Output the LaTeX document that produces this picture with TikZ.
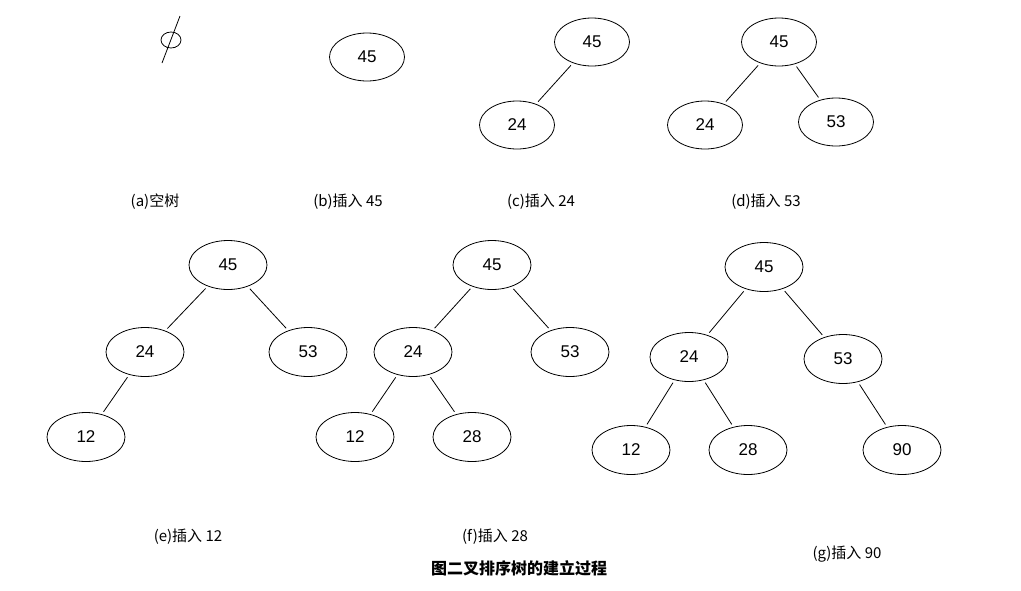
\documentclass[tikz,border=0pt]{standalone}
\usepackage{fontspec}
\usetikzlibrary{shapes.geometric}
\setmainfont{Liberation Sans}
\newfontfamily\cjk{Noto Sans CJK SC}
\begin{document}
\begin{tikzpicture}[x=1pt,y=-1pt,
  nd/.style={draw,thick,ellipse,minimum width=78pt,minimum height=49pt,inner sep=0pt,font=\fontsize{17}{17}\selectfont},
  ed/.style={thick,shorten <=3pt,shorten >=3pt},
  captxt/.style={font=\fontsize{15}{15}\selectfont\cjk}]
\useasboundingbox (0,0) rectangle (1021,590);
% (a)
\draw[thick] (171,40) ellipse (10 and 8);
\coordinate (e1) at (180,16); \coordinate (e2) at (162,63);
\draw[thick] (e1) -- (e2);
\node[captxt] (ca) at (155,202) {(a)空树};
% (b)
\node[nd,minimum width=75pt,minimum height=48pt] (b1) at (367,57) {45};
\node[captxt] (cb) at (348,202) {(b)插入 45};
% (c)
\node[nd,minimum width=75pt,minimum height=48pt] (c1) at (592,42) {45};
\node[nd,minimum width=75pt,minimum height=48pt] (c2) at (517,125) {24};
\draw[ed] (c1) -- (c2);
\node[captxt] (cc) at (541,202) {(c)插入 24};
% (d)
\node[nd,minimum width=75pt,minimum height=48pt] (d1) at (779,42) {45};
\node[nd,minimum width=75pt,minimum height=48pt] (d2) at (705,125) {24};
\node[nd,minimum width=75pt,minimum height=48pt] (d3) at (836,122) {53};
\draw[ed] (d1) -- (d2); \draw[ed] (d1) -- (d3);
\node[captxt] (cd) at (766,202) {(d)插入 53};
% (e)
\node[nd] (e45) at (228,265) {45};
\node[nd] (e24) at (145,352) {24};
\node[nd] (e53) at (308,352) {53};
\node[nd] (e12) at (86,437) {12};
\draw[ed] (e45) -- (e24); \draw[ed] (e45) -- (e53); \draw[ed] (e24) -- (e12);
\node[captxt] (ce) at (188,537) {(e)插入 12};
% (f)
\node[nd] (f45) at (492,265) {45};
\node[nd] (f24) at (413,352) {24};
\node[nd] (f53) at (570,352) {53};
\node[nd] (f12) at (355,437) {12};
\node[nd] (f28) at (472,437) {28};
\draw[ed] (f45) -- (f24); \draw[ed] (f45) -- (f53); \draw[ed] (f24) -- (f12); \draw[ed] (f24) -- (f28);
\node[captxt] (cf) at (495,537) {(f)插入 28};
% (g)
\node[nd] (g45) at (764,267) {45};
\node[nd] (g24) at (689,357) {24};
\node[nd] (g53) at (843,359) {53};
\node[nd] (g12) at (631,450) {12};
\node[nd] (g28) at (748,450) {28};
\node[nd] (g90) at (902,450) {90};
\draw[ed] (g45) -- (g24); \draw[ed] (g45) -- (g53); \draw[ed] (g24) -- (g12); \draw[ed] (g24) -- (g28); \draw[ed] (g53) -- (g90);
\node[captxt] (cg) at (847,554) {(g)插入 90};
\node[captxt,font=\fontsize{16}{16}\selectfont\cjk\bfseries] (t) at (519,568) {图二叉排序树的建立过程};
\end{tikzpicture}
\end{document}
